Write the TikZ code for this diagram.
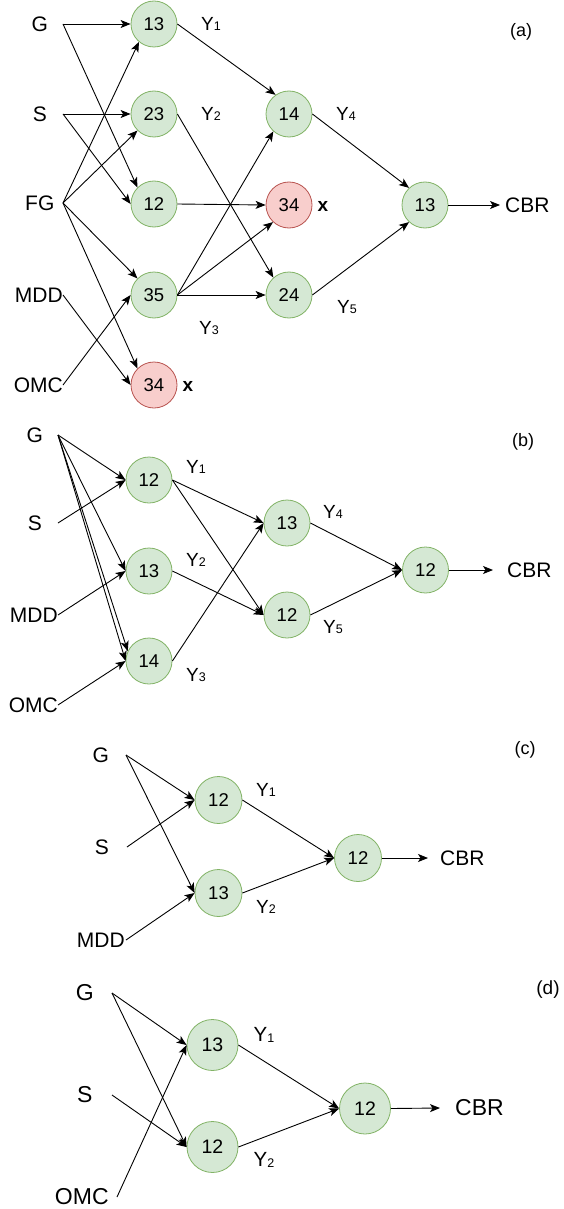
\documentclass[tikz,border=0pt]{standalone}
\usepackage{fontspec}
\setmainfont{Liberation Sans}
\usetikzlibrary{arrows.meta}
\definecolor{gfill}{HTML}{D5E8D4}
\definecolor{gline}{HTML}{82B366}
\definecolor{rfill}{HTML}{F8CECC}
\definecolor{rline}{HTML}{B85450}
\newcommand{\Ysub}[1]{Y\raisebox{-0.8pt}{\fontsize{12.5}{12.5}\selectfont #1}}
\begin{document}
\begin{tikzpicture}[x=1pt,y=-1pt,
  gnode/.style={circle, fill=gfill, draw=gline, line width=0.8pt, minimum size=46pt, inner sep=0pt, font=\fontsize{18.5}{18.5}\selectfont},
  rnode/.style={gnode, fill=rfill, draw=rline},
  dnode/.style={gnode, minimum size=51pt, font=\fontsize{19.5}{19.5}\selectfont},
  lbl/.style={anchor=east, minimum width=46pt, inner sep=0pt, font=\fontsize{21}{21}\selectfont},
  dlbl/.style={lbl, minimum width=54pt, font=\fontsize{23}{23}\selectfont},
  ylbl/.style={inner sep=0pt, font=\fontsize{19}{19}\selectfont},
  dylbl/.style={inner sep=0pt, font=\fontsize{20.5}{20.5}\selectfont},
  cbr/.style={anchor=west, inner ysep=0pt, font=\fontsize{21}{21}\selectfont},
  plbl/.style={inner sep=0pt, font=\fontsize{18}{18}\selectfont},
  xm/.style={inner sep=0pt, font=\bfseries\fontsize{19}{19}\selectfont},
  arr/.style={-{Stealth[length=10pt,width=8pt,inset=2.5pt]}, line width=0.9pt},
]
\useasboundingbox (0,0) rectangle (563,1209);

% ---------------- (a) ----------------
\node[lbl] (aG) at (63,24) {G};
\node[lbl] (aS) at (63,114) {S};
\node[lbl] (aFG) at (63,203) {FG};
\node[lbl] (aMDD) at (63,295) {MDD};
\node[lbl] (aOMC) at (63,385) {OMC};
\node[gnode] (a13) at (154,24) {13};
\node[gnode] (a23) at (154,114) {23};
\node[gnode] (a12) at (154,204) {12};
\node[gnode] (a35) at (154,295) {35};
\node[rnode] (a34) at (154,385) {34};
\node[ylbl] (aY1) at (211,24) {\Ysub{1}};
\node[ylbl] (aY2) at (211,114) {\Ysub{2}};
\node[ylbl] (aY3) at (209,328) {\Ysub{3}};
\node[xm] (ax1) at (188,386) {x};
\node[gnode] (a14) at (289,114) {14};
\node[rnode] (a34b) at (289,205) {34};
\node[gnode] (a24) at (289,295) {24};
\node[xm] (ax2) at (323,206) {x};
\node[ylbl] (aY4) at (346,114) {\Ysub{4}};
\node[ylbl] (aY5) at (347,307) {\Ysub{5}};
\node[gnode] (af13) at (425,205) {13};
\node[cbr, inner xsep=5pt] (aCBR) at (500,205) {CBR};
\node[plbl] (alab) at (521,32) {(a)};

\draw[arr] (aG.east) -- (a13.west);
\draw[arr] (aG.east) -- (a12.135);
\draw[arr] (aS.east) -- (a23.west);
\draw[arr] (aS.east) -- (a12.west);
\draw[arr] (aFG.east) -- (a13.230);
\draw[arr] (aFG.east) -- (a23.225);
\draw[arr] (aFG.east) -- (a35.135);
\draw[arr] (aFG.east) -- (a34.135);
\draw[arr] (aMDD.east) -- (a34.west);
\draw[arr] (aOMC.east) -- (a35.west);
\draw[arr] (a13.east) -- (a14.125);
\draw[arr] (a23.east) -- (a24.132);
\draw[arr] (a12.east) -- (a34b.west);
\draw[arr] (a35.east) -- (a14.228);
\draw[arr] (a35.east) -- (a34b.227);
\draw[arr] (a35.east) -- (a24.west);
\draw[arr] (a14.east) -- (af13.133);
\draw[arr] (a24.east) -- (af13.227);
\draw[arr] (af13.east) -- (aCBR.west);

% ---------------- (b) ----------------
\node[lbl] (bG) at (58,435) {G};
\node[lbl] (bS) at (58,523) {S};
\node[lbl] (bMDD) at (58,615) {MDD};
\node[lbl] (bOMC) at (58,705) {OMC};
\node[gnode] (b12) at (149,480) {12};
\node[gnode] (b13) at (149,571) {13};
\node[gnode] (b14) at (149,661) {14};
\node[ylbl] (bY1) at (196,467) {\Ysub{1}};
\node[ylbl] (bY2) at (196,560) {\Ysub{2}};
\node[ylbl] (bY3) at (196,675) {\Ysub{3}};
\node[gnode] (bm13) at (287,523) {13};
\node[gnode] (bm12) at (287,615) {12};
\node[ylbl] (bY4) at (333,512) {\Ysub{4}};
\node[ylbl] (bY5) at (333,627) {\Ysub{5}};
\node[gnode] (bf12) at (425.5,570) {12};
\node[cbr, inner xsep=14pt] (bCBR) at (493,570) {CBR};
\node[plbl] (blab) at (523,442) {(b)};

\draw[arr] (bG.east) -- (b12.west);
\draw[arr] (bG.east) -- (b13.west);
\draw[arr] (bG.east) -- (b14.west);
\draw[arr] (bG.east) -- (b14.155);
\draw[arr] (bS.east) -- (b12.west);
\draw[arr] (bMDD.east) -- (b13.west);
\draw[arr] (bOMC.east) -- (b14.west);
\draw[arr] (b12.east) -- (bm13.west);
\draw[arr] (b12.east) -- (bm12.west);
\draw[arr] (b13.east) -- (bm12.west);
\draw[arr] (b14.east) -- (bm13.west);
\draw[arr] (bm13.east) -- (bf12.west);
\draw[arr] (bm12.east) -- (bf12.west);
\draw[arr] (bf12.east) -- (bCBR.west);

% ---------------- (c) ----------------
\node[lbl, minimum width=50pt] (cG) at (126,755) {G};
\node[lbl, minimum width=50pt] (cS) at (127,847) {S};
\node[lbl, minimum width=50pt] (cMDD) at (126,940) {MDD};
\node[gnode, minimum size=47pt] (c12) at (218.5,800) {12};
\node[gnode, minimum size=47pt] (c13) at (218.5,893) {13};
\node[ylbl] (cY1) at (266,790) {\Ysub{1}};
\node[ylbl] (cY2) at (266,907) {\Ysub{2}};
\node[gnode, minimum size=47pt] (cf12) at (358,858) {12};
\node[cbr, inner xsep=12pt] (cCBR) at (428,858) {CBR};
\node[plbl] (clab) at (525,750) {(c)};

\draw[arr] (cG.east) -- (c12.west);
\draw[arr] (cG.east) -- (c13.west);
\draw[arr] (cS.east) -- (c12.west);
\draw[arr] (cMDD.east) -- (c13.west);
\draw[arr] (c12.east) -- (cf12.west);
\draw[arr] (c13.east) -- (cf12.west);
\draw[arr] (cf12.east) -- (cCBR.west);

% ---------------- (d) ----------------
\node[dlbl] (dG) at (112,993) {G};
\node[dlbl] (dS) at (112,1095) {S};
\node[dlbl, minimum width=70pt] (dOMC) at (117,1197) {OMC};
\node[dnode] (d13) at (212.5,1045) {13};
\node[dnode] (d12) at (212.5,1147) {12};
\node[dylbl] (dY1) at (264,1035) {\Ysub{1}};
\node[dylbl] (dY2) at (264,1160) {\Ysub{2}};
\node[dnode] (df12) at (365,1108.5) {12};
\node[cbr, inner xsep=15pt, font=\fontsize{23}{23}\selectfont] (dCBR) at (440,1108) {CBR};
\node[plbl, font=\fontsize{19}{19}\selectfont] (dlab) at (548,990) {(d)};

\draw[arr] (dG.east) -- (d13.west);
\draw[arr] (dG.east) -- (d12.west);
\draw[arr] (dS.east) -- (d12.west);
\draw[arr] (dOMC.east) -- (d13.west);
\draw[arr] (d13.east) -- (df12.west);
\draw[arr] (d12.east) -- (df12.west);
\draw[arr] (df12.east) -- (dCBR.west);
\end{tikzpicture}
\end{document}
